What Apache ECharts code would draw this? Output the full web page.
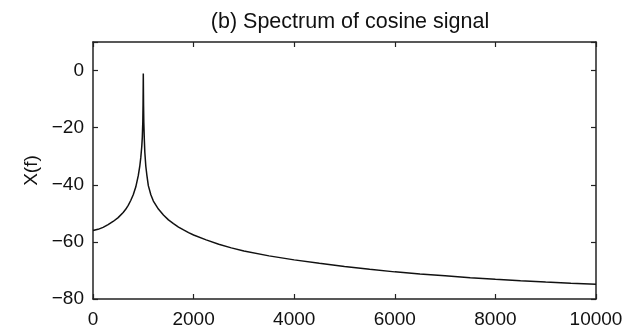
<!DOCTYPE html>
<html>
<head>
<meta charset="utf-8">
<script src="https://cdn.jsdelivr.net/npm/echarts@6/dist/echarts.min.js"></script>
<style>
html,body{margin:0;padding:0;background:#fff;}
#c{width:630px;height:334px;}
</style>
</head>
<body>
<div id="c"></div>
<script>
var titleText = '(b) Spectrum of cosine signal';
var yName = 'X(f)';
var freq = [0, 100, 200, 300, 400, 500, 600, 650, 700, 750, 800, 850, 900, 930, 950, 970, 980, 990, 995, 1000,
  1005, 1010, 1020, 1030, 1050, 1070, 1100, 1150, 1200, 1300, 1400, 1500, 1600, 1700, 1800, 1900, 2000, 2250, 2500,
  2750, 3000, 3500, 4000, 4500, 5000, 5500, 6000, 6500, 7000, 7500, 8000, 8500, 9000, 9500, 10000];
var mag = [-56.0, -55.6, -54.9, -53.95, -52.85, -51.5, -49.7, -48.6, -47.2, -45.5, -43.5, -40.8, -36.8, -33.5, -30.5, -26.5, -23.5, -18, -12, -1,
  -12, -18, -24, -28.5, -33.5, -36.5, -40.3, -43.5, -45.7, -48.5, -50.6, -52.3, -53.6, -54.8, -55.8, -56.75, -57.6, -59.3, -60.8,
  -62.1, -63.2, -64.9, -66.3, -67.5, -68.6, -69.6, -70.5, -71.25, -71.9, -72.55, -73.1, -73.6, -74.05, -74.45, -74.8];
var xMin = 0, xMax = 10000, xStep = 2000;
var yMin = -80, yMax = 10, yStep = 20;

var pts = freq.map(function (f, i) { return [f, mag[i]]; });
var font = 'Liberation Sans';
var ink = '#111';
function aLine() { return { show: true, onZero: false, lineStyle: { color: '#222', width: 1.5 } }; }
function aTick() { return { show: true, inside: true, length: 5, lineStyle: { color: '#222', width: 1.2 } }; }

var chart = echarts.init(document.getElementById('c'), null, { renderer: 'canvas' });
chart.setOption({
  animation: false,
  backgroundColor: '#fff',
  title: {
    text: titleText,
    left: 345, top: 6, textAlign: 'center',
    textStyle: { fontFamily: font, fontSize: 21.5, fontWeight: 'normal', color: ink }
  },
  grid: { left: 93, right: 34, top: 42, bottom: 35, containLabel: false },
  xAxis: [{
    type: 'value', min: xMin, max: xMax, interval: xStep, position: 'bottom',
    axisLine: aLine(), axisTick: aTick(), splitLine: { show: false },
    axisLabel: { show: true, margin: 11, fontFamily: font, fontSize: 19, color: ink, showMinLabel: true, showMaxLabel: true,
      formatter: function (v) { return String(v); } }
  }, {
    type: 'value', min: xMin, max: xMax, interval: xStep, position: 'top',
    axisLine: aLine(), axisTick: aTick(), splitLine: { show: false }, axisLabel: { show: false }
  }],
  yAxis: [{
    type: 'value', min: yMin, max: yMax, interval: yStep, position: 'left',
    name: yName, nameLocation: 'middle', nameGap: 50, nameRotate: 90,
    nameTextStyle: { fontFamily: font, fontSize: 19, color: ink },
    axisLine: aLine(), axisTick: aTick(), splitLine: { show: false },
    axisLabel: {
      margin: 9, fontFamily: font, fontSize: 19, color: ink,
      formatter: function (v) { if (v > 0) return ''; return v < 0 ? '\u2212' + Math.abs(v) : String(v); }
    }
  }, {
    type: 'value', min: yMin, max: yMax, interval: yStep, position: 'right',
    axisLine: aLine(), axisTick: aTick(), splitLine: { show: false }, axisLabel: { show: false }
  }],
  series: [{
    type: 'line', data: pts, xAxisIndex: 0, yAxisIndex: 0,
    showSymbol: false, symbol: 'none', smooth: false,
    lineStyle: { color: '#111', width: 1.5 }
  }]
});
</script>
</body>
</html>
